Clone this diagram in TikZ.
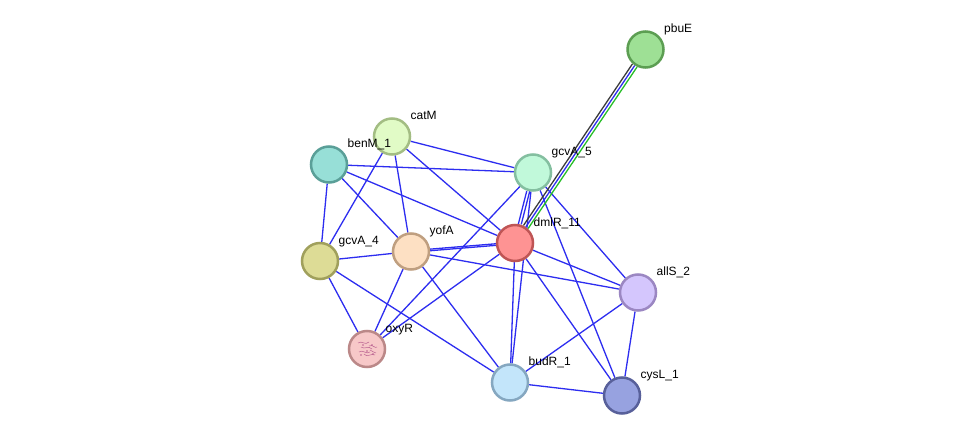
\documentclass[tikz,border=0pt]{standalone}
\usepackage{fontspec}
\setmainfont{Liberation Sans}
\usetikzlibrary{backgrounds}
\pgfdeclarelayer{paper}
\pgfsetlayers{paper,background,main}
\definecolor{edgeblue}{RGB}{45,45,240}
\definecolor{edgegreen}{RGB}{40,190,40}
\definecolor{edgeblack}{RGB}{60,60,60}
\definecolor{texpurple}{RGB}{170,70,130}
\definecolor{fpbuE}{RGB}{158,224,149}\definecolor{bpbuE}{RGB}{92,158,82}
\definecolor{fgcvAv}{RGB}{193,249,218}\definecolor{bgcvAv}{RGB}{132,191,160}
\definecolor{fdmlR}{RGB}{254,147,147}\definecolor{bdmlR}{RGB}{191,85,85}
\definecolor{fcatM}{RGB}{225,251,198}\definecolor{bcatM}{RGB}{163,189,131}
\definecolor{fbenM}{RGB}{151,223,215}\definecolor{bbenM}{RGB}{90,159,152}
\definecolor{fgcvAiv}{RGB}{221,220,150}\definecolor{bgcvAiv}{RGB}{160,160,92}
\definecolor{fyofA}{RGB}{253,224,195}\definecolor{byofA}{RGB}{191,159,128}
\definecolor{foxyR}{RGB}{247,200,200}\definecolor{boxyR}{RGB}{187,136,136}
\definecolor{fbudR}{RGB}{195,229,250}\definecolor{bbudR}{RGB}{133,167,192}
\definecolor{fcysL}{RGB}{151,162,224}\definecolor{bcysL}{RGB}{88,96,154}
\definecolor{fallS}{RGB}{212,198,253}\definecolor{ballS}{RGB}{155,135,194}
\tikzset{
  prot/.style={circle,minimum size=36pt,inner sep=0pt,line width=2.5pt},
  lab/.style={anchor=base west,inner sep=0pt,font=\fontsize{12}{12}\selectfont,text=black},
  link/.style={draw=edgeblue,line width=1.3pt},
}
\begin{document}
\begin{tikzpicture}[x=1pt,y=-1pt]
\useasboundingbox (0,0) rectangle (975,441);
\begin{pgfonlayer}{paper}
\fill[white] (0,0) rectangle (975,441);
\end{pgfonlayer}
% nodes
\node[prot,fill=fpbuE,draw=bpbuE] (pbuE) at (645.5,49.5) {};
\node[prot,fill=fgcvAv,draw=bgcvAv] (gcvA5) at (533,172.5) {};
\node[prot,fill=fdmlR,draw=bdmlR] (dmlR) at (515,243) {};
\node[prot,fill=fcatM,draw=bcatM] (catM) at (392,136.5) {};
\node[prot,fill=fbenM,draw=bbenM] (benM) at (329,164.5) {};
\node[prot,fill=fgcvAiv,draw=bgcvAiv] (gcvA4) at (320,261) {};
\node[prot,fill=fyofA,draw=byofA] (yofA) at (411,251.5) {};
\node[prot,fill=foxyR,draw=boxyR] (oxyR) at (367,349) {};
\node[prot,fill=fbudR,draw=bbudR] (budR) at (510,382.5) {};
\node[prot,fill=fcysL,draw=bcysL] (cysL) at (622,395.5) {};
\node[prot,fill=fallS,draw=ballS] (allS) at (638,292.5) {};
% oxyR texture
\begin{scope}[shift={(oxyR.center)},draw=texpurple,line width=0.5pt,opacity=0.8]
\draw (-9,-6) .. controls (-5,-9) and (-2,-3) .. (2,-7);
\draw (-6,-2) .. controls (-2,1) and (1,-4) .. (5,0);
\draw (-8,3) .. controls (-4,0) and (-1,6) .. (3,3);
\draw (2,-3) .. controls (6,-5) and (8,0) .. (10,-2);
\draw (-3,5) .. controls (0,9) and (4,4) .. (8,6);
\draw (3,1) .. controls (5,4) and (8,2) .. (9,4);
\fill[texpurple] (-4,-4) circle (0.9) (0,2) circle (0.9) (5,-4) circle (0.8) (-6,6) circle (0.8) (6,5) circle (0.8);
\end{scope}
% edges
\begin{scope}[on background layer]
\draw[link] (catM) -- (gcvA5);
\draw[link] (catM) -- (dmlR);
\draw[link] (catM) -- (yofA);
\draw[link] (catM) -- (gcvA4);
\draw[link] (benM) -- (gcvA5);
\draw[link] (benM) -- (dmlR);
\draw[link] (benM) -- (yofA);
\draw[link] (benM) -- (gcvA4);
\draw[link] (gcvA4) -- (yofA);
\draw[link] (gcvA4) -- (oxyR);
\draw[link] (gcvA4) -- (budR);
\draw[link,transform canvas={shift={(0pt,0.8pt)}}] (yofA) -- (dmlR);
\draw[link,transform canvas={shift={(0pt,-0.8pt)}}] (yofA) -- (dmlR);
\draw[link] (yofA) -- (allS);
\draw[link] (yofA) -- (budR);
\draw[link] (yofA) -- (oxyR);
\draw[link] (oxyR) -- (gcvA5);
\draw[link] (oxyR) -- (dmlR);
\draw[link,transform canvas={shift={(-1.5pt,0pt)}}] (gcvA5) -- (dmlR);
\draw[link,transform canvas={shift={(1.5pt,0pt)}}] (gcvA5) -- (dmlR);
\draw[link] (gcvA5) -- (allS);
\draw[link] (gcvA5) -- (cysL);
\draw[link] (gcvA5) -- (budR);
\draw[link] (dmlR) -- (allS);
\draw[link] (dmlR) -- (budR);
\draw[link] (dmlR) -- (cysL);
\draw[link] (allS) -- (budR);
\draw[link] (allS) -- (cysL);
\draw[link] (budR) -- (cysL);
\draw[draw=edgeblack,line width=1.3pt,transform canvas={shift={(-2.3pt,1.55pt)}}] (dmlR) -- (pbuE);
\draw[link] (dmlR) -- (pbuE);
\draw[draw=edgegreen,line width=1.3pt,transform canvas={shift={(2.3pt,-1.55pt)}}] (dmlR) -- (pbuE);
\end{scope}
% labels
\node[lab] (lpbuE) at ([shift={(18.5,-17)}]pbuE.center) {pbuE};
\node[lab] (lgcvA5) at ([shift={(18.5,-17)}]gcvA5.center) {gcvA\_5};
\node[lab] (ldmlR) at ([shift={(18.5,-17)}]dmlR.center) {dmlR\_11};
\node[lab] (lcatM) at ([shift={(18.5,-17)}]catM.center) {catM};
\node[lab] (lbenM) at ([shift={(18.5,-17)}]benM.center) {benM\_1};
\node[lab] (lgcvA4) at ([shift={(18.5,-17)}]gcvA4.center) {gcvA\_4};
\node[lab] (lyofA) at ([shift={(18.5,-17)}]yofA.center) {yofA};
\node[lab] (loxyR) at ([shift={(18.5,-17)}]oxyR.center) {oxyR};
\node[lab] (lbudR) at ([shift={(18.5,-17)}]budR.center) {budR\_1};
\node[lab] (lcysL) at ([shift={(18.5,-17)}]cysL.center) {cysL\_1};
\node[lab] (lallS) at ([shift={(18.5,-17)}]allS.center) {allS\_2};
\end{tikzpicture}
\end{document}
